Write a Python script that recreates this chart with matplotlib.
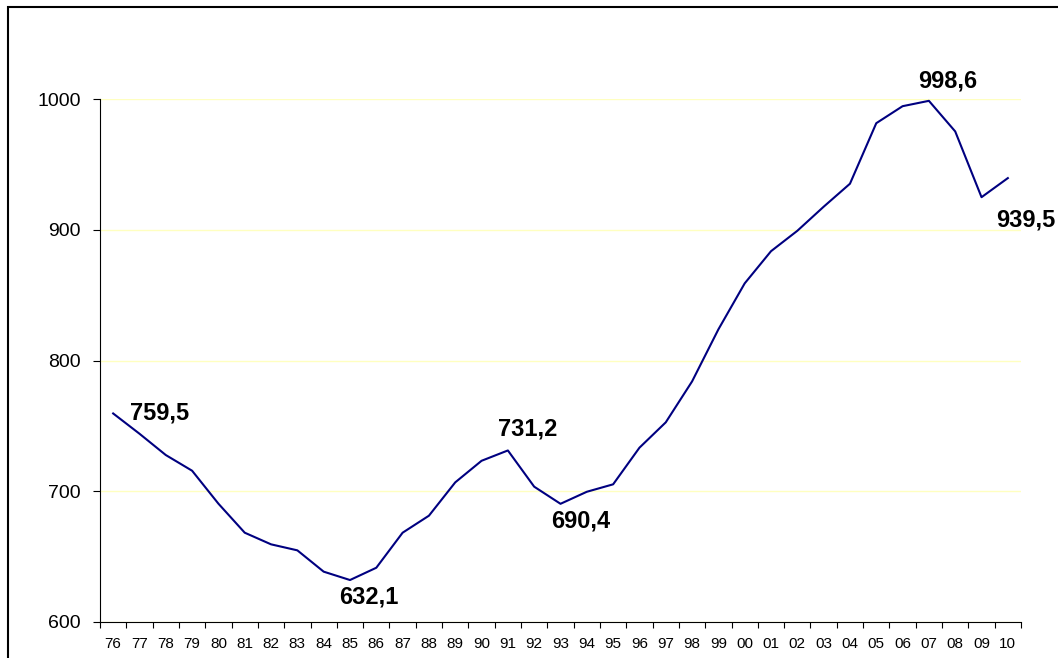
import numpy as np
import matplotlib.pyplot as plt
from matplotlib.patches import Rectangle

plt.rcParams['font.family'] = ['Liberation Sans', 'DejaVu Sans']

# years shown as two-digit labels
years = ['76', '77', '78', '79', '80', '81', '82', '83', '84', '85', '86', '87',
         '88', '89', '90', '91', '92', '93', '94', '95', '96', '97', '98', '99',
         '00', '01', '02', '03', '04', '05', '06', '07', '08', '09', '10']

values = [759.5, 744.0, 727.7, 715.7, 690.5, 668.3, 659.4, 654.8, 638.5, 632.1,
          641.5, 668.3, 681.3, 706.8, 723.3, 731.2, 703.5, 690.4, 699.6, 705.3,
          733.3, 752.7, 784.0, 823.8, 859.0, 883.6, 899.2, 917.6, 935.2, 981.5,
          994.5, 998.6, 975.2, 924.9, 939.5]

# points that get a bold value label, with label offset in pixels
labelled = ['76', '85', '91', '93', '07', '10']
label_offsets = [(17, 0), (19, -17), (20, 21), (20, -17), (19, 20), (18, -42)]
label_ha = ['left', 'center', 'center', 'center', 'center', 'center']

fig = plt.figure(figsize=(10.58, 6.58), dpi=100)
ax = fig.add_axes([100 / 1058, 36 / 658, 921 / 1058, 523 / 658])

x = np.arange(len(years))
ax.plot(x, values, color='#000080', lw=1.5)

for yr, (dx, dy), ha in zip(labelled, label_offsets, label_ha):
    i = years.index(yr)
    ax.annotate(f"{values[i]:.1f}".replace('.', ','), (x[i], values[i]),
                xytext=(dx, dy), textcoords='offset pixels', ha=ha, va='center',
                fontsize=17, fontweight='bold', annotation_clip=False)

ax.set_xlim(-0.5, len(years) - 0.5)
ax.set_ylim(600, 1000)
ax.set_yticks([600, 700, 800, 900, 1000])
ax.set_xticks(x)
ax.set_xticklabels(years)
ax.set_xticks(np.arange(len(years) + 1) - 0.5, minor=True)
ax.tick_params(axis='x', which='major', length=0, pad=11, labelsize=11)
ax.tick_params(axis='x', which='minor', length=4, width=0.8, direction='out')
ax.tick_params(axis='y', length=5, width=0.8, pad=9, labelsize=14)

ax.yaxis.grid(True, color='#ffffc0', lw=1)
ax.set_axisbelow(True)
for s in ['top', 'right']:
    ax.spines[s].set_visible(False)
for s in ['left', 'bottom']:
    ax.spines[s].set_linewidth(0.8)

# outer chart frame, only top and left edges fall inside the image
fig.patches.append(Rectangle((8 / 1058, -0.1), 1.2, (658 - 7) / 658 + 0.1,
                             transform=fig.transFigure, fill=False,
                             edgecolor='black', lw=1.5))

fig.savefig('out.png', dpi=100)
